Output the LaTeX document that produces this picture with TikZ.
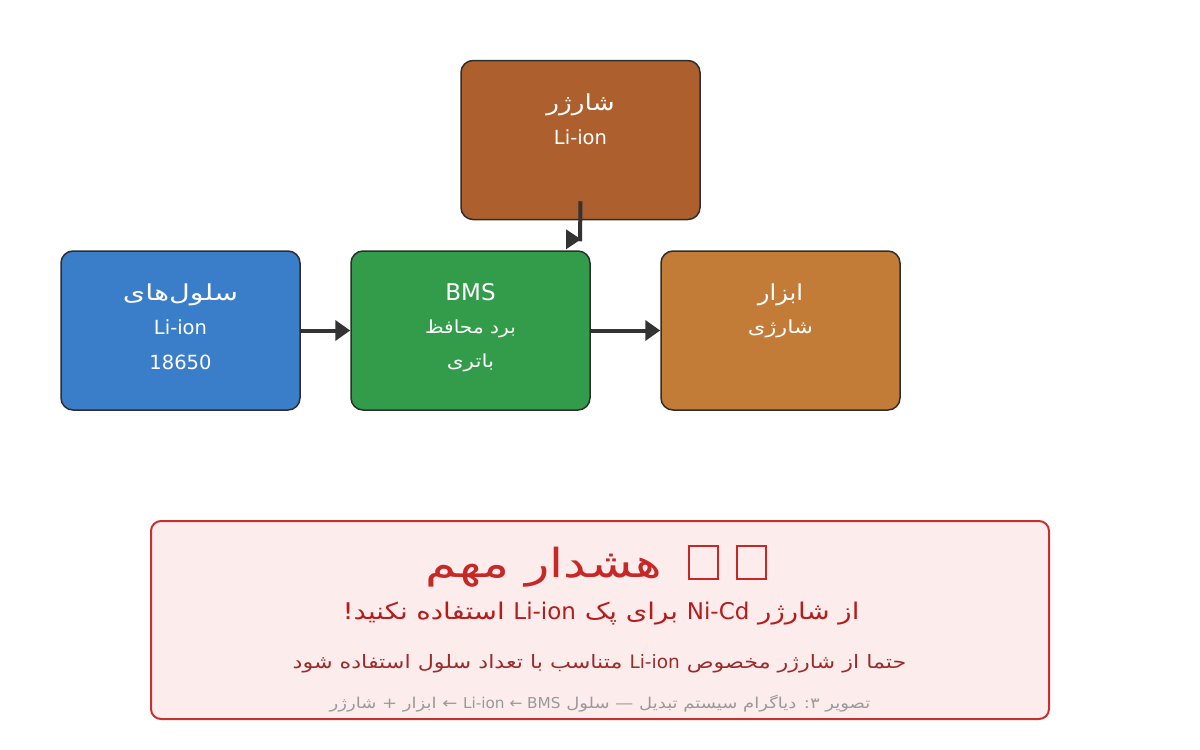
\documentclass[tikz,border=0pt]{standalone}
\usepackage{fontspec}
\usepackage{graphicx}
\setmainfont{DejaVu Sans}
\newfontfamily\fa[Script=Arabic]{DejaVu Sans}
\newfontfamily\la{DejaVu Sans}
\usetikzlibrary{calc,arrows.meta}
\TeXXeTstate=1
\definecolor{cellc}{HTML}{3A7DC9}
\definecolor{bmsc}{HTML}{339C4A}
\definecolor{toolc}{HTML}{C27C38}
\definecolor{chgc}{HTML}{AD5F2D}
\definecolor{edgec}{HTML}{2D2D2D}
\definecolor{arrc}{HTML}{333333}
\definecolor{warnfill}{HTML}{FDECEC}
\definecolor{warnline}{HTML}{C53030}
\definecolor{warntitle}{HTML}{C62828}
\definecolor{warnsub}{HTML}{B71C1C}
\definecolor{warntext}{HTML}{9B2C2C}
\definecolor{capc}{HTML}{999999}
% Persian text, stretched horizontally
\newcommand\ar[2][1.2]{\scalebox{#1}[1]{\fa\beginR #2\endR}}
% Latin run inside stretched Persian text: #1 = inverse factor
\newcommand\lat[2]{\beginL\scalebox{#1}[1]{\la #2}\endL{}}
\newcommand\tofubox{{\setlength\fboxsep{0pt}\setlength\fboxrule{2pt}\fbox{\rule{0pt}{31pt}\hspace{27pt}}}}
\tikzset{
  blk/.style={draw=edgec,line width=1.5pt,rounded corners=12pt,minimum width=239pt,minimum height=159pt,inner sep=0pt},
  ttl/.style={text=white,font=\fontsize{22}{26}\selectfont,inner sep=0pt},
  sub/.style={text=white,font=\fontsize{19.5}{23}\selectfont,inner sep=0pt},
  subfa/.style={text=white,font=\fontsize{18}{22}\selectfont,inner sep=0pt},
  arr/.style={draw=arrc,line width=4pt,-{Triangle[length=15pt,width=20pt]}},
  conn/.style={draw=arrc,line width=4pt},
}
\begin{document}
\begin{tikzpicture}[x=1pt,y=-1pt]
\useasboundingbox (0,0) rectangle (1200,750);
\node[blk,fill=chgc] (chg) at (580.5,140) {};
\node[blk,fill=cellc] (cells) at (180.5,330.5) {};
\node[blk,fill=bmsc] (bms) at (470.5,330.5) {};
\node[blk,fill=toolc] (tool) at (780.5,330.5) {};
% texts
\node[ttl] (chgA) at ($(chg.north)+(0,45)$) {\ar{شارژر}};
\node[sub] (chgB) at ($(chg.north)+(0,77)$) {Li-ion};
\node[ttl] (cellsA) at ($(cells.north)+(0,45)$) {\ar[1.3]{سلول‌های}};
\node[sub] (cellsB) at ($(cells.north)+(0,77)$) {Li-ion};
\node[sub] (cellsC) at ($(cells.north)+(0,112)$) {18650};
\node[ttl,font=\fontsize{23}{27}\selectfont] (bmsA) at ($(bms.north)+(0,42)$) {BMS};
\node[subfa] (bmsB) at ($(bms.north)+(0,79)$) {\ar[1.12]{برد محافظ}};
\node[subfa] (bmsC) at ($(bms.north)+(0,113)$) {\ar{باتری}};
\node[ttl] (toolA) at ($(tool.north)+(0,45)$) {\ar[1.1]{ابزار}};
\node[subfa] (toolB) at ($(tool.north)+(0,79)$) {\ar[1.25]{شارژی}};
% connectors
\draw[arr] (cells.east) -- (bms.west);
\draw[arr] (bms.east) -- (tool.west);
\coordinate (cs) at ($(chg.south)+(0,-19)$);
\coordinate (ce) at ($(bms.north)+(109.5,-11)$);
\draw[conn] (cs) -- ($(ce)+(0,2)$);
\fill[arrc] ($(ce)+(1,0)$) -- ++(-15,-10) -- ++(0,20) -- cycle;
% warning box
\node[draw=warnline,line width=2pt,fill=warnfill,rounded corners=10pt,minimum width=898pt,minimum height=198pt,inner sep=0pt] (warn) at (600,620) {};
\node[text=warntitle,font=\fontsize{40}{44}\selectfont,inner sep=0pt] (wt) at (596,566) {\ar[1.26]{هشدار مهم}\hspace{26pt}\textcolor{warntitle}{\tofubox\hspace{17pt}\tofubox}};
\node[text=warnsub,font=\fontsize{23}{27}\selectfont,inner sep=0pt] (ws) at (601,614) {\ar[1.2]{از شارژر \lat{0.833}{Ni-Cd} برای پک \lat{0.833}{Li-ion} استفاده نکنید!}};
\node[text=warntext,font=\fontsize{18.5}{22}\selectfont,inner sep=0pt] (wl) at (599.5,664) {\ar[1.2]{حتما از شارژر مخصوص \lat{0.833}{Li-ion} متناسب با تعداد سلول استفاده شود}};
\node[text=capc,font=\fontsize{15}{18}\selectfont,inner sep=0pt] (wc) at (600,704) {\ar[1.2]{تصویر ۳: دیاگرام سیستم تبدیل — سلول \lat{0.85}{Li-ion ← BMS} ← ابزار + شارژر}};
\end{tikzpicture}
\end{document}
